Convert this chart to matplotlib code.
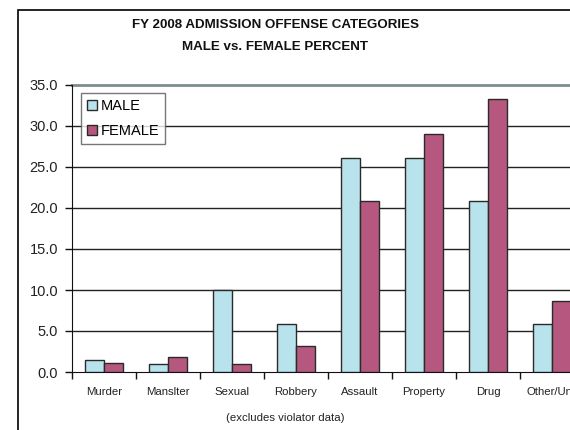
import matplotlib
matplotlib.use("Agg")
import matplotlib.pyplot as plt
import numpy as np
from matplotlib.patches import Rectangle
from matplotlib import font_manager

categories = ["Murder", "Manslter", "Sexual", "Robbery", "Assault", "Property", "Drug", "Other/Unk"]
male = [1.5, 1.0, 10.0, 5.9, 26.1, 26.1, 20.9, 5.9]
female = [1.1, 1.8, 1.0, 3.2, 20.8, 29.0, 33.3, 8.6]
yticks = [0, 5, 10, 15, 20, 25, 30, 35]

male_color = "#B8E2EC"
female_color = "#B5577F"
edge = "#2a2a2a"

plt.rcParams['font.family'] = ['Liberation Sans', 'DejaVu Sans']

names = {f.name for f in font_manager.fontManager.ttflist}
if 'Liberation Sans Narrow' in names:
    narrow = ['Liberation Sans Narrow', 'Liberation Sans']
    xfs = 10.0
else:
    narrow = ['Liberation Sans', 'DejaVu Sans']
    xfs = 8.2

W, H = 570, 430
fig = plt.figure(figsize=(W/100, H/100), dpi=100)

fig.add_artist(Rectangle((18/W, -0.1), 1.2, 1 - 10/H + 0.1, transform=fig.transFigure,
                         fill=False, edgecolor="black", linewidth=1.2))

ax = fig.add_axes([72/W, 1 - 372/H, 512/W, (372 - 85)/H])
x = np.arange(len(categories))
bw = 0.297
ax.bar(x - bw/2, male, width=bw, color=male_color, edgecolor=edge, linewidth=1.0, zorder=3, label="MALE")
ax.bar(x + bw/2, female, width=bw, color=female_color, edgecolor=edge, linewidth=1.0, zorder=3, label="FEMALE")

ax.set_xlim(-0.5, len(categories) - 0.5)
ax.set_ylim(0, 35)
ax.set_yticks(yticks)
ax.set_yticklabels([f"{v:.1f}" for v in yticks], fontsize=10.5, color="#222222")
for v in yticks[1:-1]:
    ax.axhline(v, color="#222222", linewidth=1.0, zorder=1)
ax.axhline(35, color="#7f8c8d", linewidth=2.0, zorder=1, clip_on=False)

for s in ["top", "right"]:
    ax.spines[s].set_visible(False)
ax.spines["left"].set_color("#111111")
ax.spines["bottom"].set_color("#111111")
ax.tick_params(axis="y", direction="out", length=5, width=1, pad=5, colors="#111111")
ax.tick_params(axis="y", labelcolor="#222222")

ax.set_xticks(np.arange(-0.5, len(categories) + 0.5, 1.0))
ax.set_xticklabels([])
ax.tick_params(axis="x", which="major", direction="out", length=5, width=1, colors="#111111")
ax.set_xticks(x, minor=True)
ax.set_xticklabels(categories, minor=True, fontsize=xfs, color="#222222", family=narrow)
ax.tick_params(axis="x", which="minor", length=0, pad=11)

ax.text((285 - 72) / 512, -46 / 287, "(excludes violator data)", transform=ax.transAxes,
        ha="center", va="center", fontsize=xfs, color="#222222", family=narrow)

fig.text(275/W, 1 - 25/H, "FY 2008 ADMISSION OFFENSE CATEGORIES", ha="center", va="center",
         fontsize=9.6, fontweight="bold", color="#111111")
fig.text(275/W, 1 - 47/H, "MALE vs. FEMALE PERCENT", ha="center", va="center",
         fontsize=9.6, fontweight="bold", color="#111111")

handles = [Rectangle((0, 0), 1, 1, facecolor=male_color, edgecolor=edge, linewidth=1.0),
           Rectangle((0, 0), 1, 1, facecolor=female_color, edgecolor=edge, linewidth=1.0)]
leg = ax.legend(handles, ["MALE", "FEMALE"], loc="upper left", bbox_to_anchor=(9/512, 1 - 8/287),
                fontsize=10.5, frameon=True, fancybox=False, handlelength=0.7, handleheight=0.7,
                handletextpad=0.25, borderpad=0.4, labelspacing=0.75, borderaxespad=0)
leg.get_frame().set_edgecolor("#555555")
leg.get_frame().set_linewidth(1.0)
leg.get_frame().set_facecolor("white")
leg.set_zorder(5)

fig.savefig("out.png", dpi=100)
